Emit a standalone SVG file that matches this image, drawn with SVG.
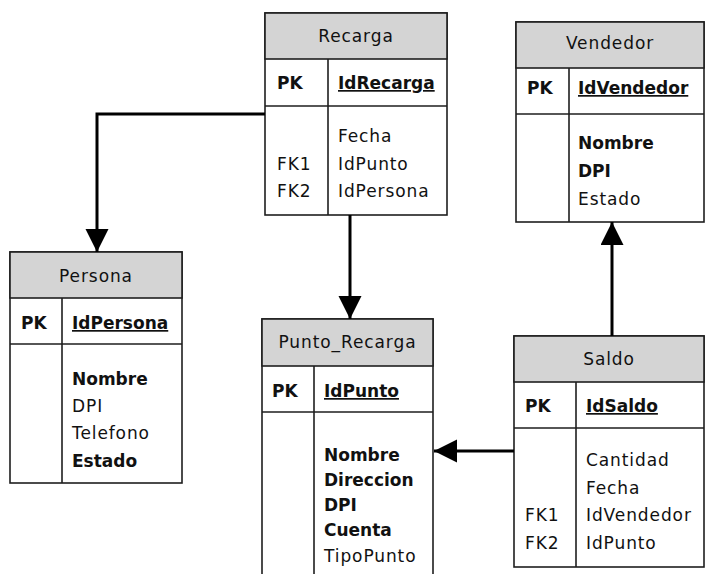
<svg xmlns="http://www.w3.org/2000/svg" width="705" height="574" viewBox="0 0 705 574">
<style>
  .box{fill:#ffffff;stroke:#1e1e1e;stroke-width:1.6}
  .hdr{fill:#d4d4d4;stroke:#1e1e1e;stroke-width:1.6}
  .ln{stroke:#1e1e1e;stroke-width:1.6;fill:none}
  text{font-family:"DejaVu Sans","Liberation Sans",sans-serif;font-size:17px;fill:#111}
  .r{letter-spacing:0.9px}
  .b{font-weight:bold}
  .t{text-anchor:middle;letter-spacing:0.9px}
  .u{font-weight:bold;text-decoration:underline}
  .conn{stroke:#000;stroke-width:3;fill:none;marker-end:url(#arr)}
</style>
<defs>
  <marker id="arr" markerUnits="userSpaceOnUse" markerWidth="24" markerHeight="24" refX="23" refY="11.5" orient="auto">
    <path d="M0,0 L23,11.5 L0,23 z" fill="#000"/>
  </marker>
</defs>
<rect width="705" height="574" fill="#ffffff"/>

<g id="Recarga">
  <rect class="box" x="265" y="13" width="182" height="202"/>
  <rect class="hdr" x="265" y="13" width="182" height="46"/>
  <line class="ln" x1="265" y1="106" x2="447" y2="106"/>
  <line class="ln" x1="328" y1="59" x2="328" y2="215"/>
  <text class="t" x="356" y="42">Recarga</text>
  <text class="b" x="277" y="89">PK</text>
  <text class="u" x="338" y="89">IdRecarga</text>
  <text class="r" x="338" y="142">Fecha</text>
  <text class="r" x="277" y="170">FK1</text>
  <text class="r" x="338" y="170">IdPunto</text>
  <text class="r" x="277" y="197">FK2</text>
  <text class="r" x="338" y="197">IdPersona</text>
</g>

<g id="Vendedor">
  <rect class="box" x="516" y="22" width="188" height="200"/>
  <rect class="hdr" x="516" y="22" width="188" height="46"/>
  <line class="ln" x1="516" y1="114" x2="704" y2="114"/>
  <line class="ln" x1="569" y1="68" x2="569" y2="222"/>
  <text class="t" x="610" y="49">Vendedor</text>
  <text class="b" x="527" y="94">PK</text>
  <text class="u" x="578" y="94">IdVendedor</text>
  <text class="b" x="578" y="149">Nombre</text>
  <text class="b" x="578" y="177">DPI</text>
  <text class="r" x="578" y="205">Estado</text>
</g>

<g id="Persona">
  <rect class="box" x="10" y="252" width="172" height="231"/>
  <rect class="hdr" x="10" y="252" width="172" height="46"/>
  <line class="ln" x1="10" y1="344" x2="182" y2="344"/>
  <line class="ln" x1="62" y1="298" x2="62" y2="483"/>
  <text class="t" x="96" y="282">Persona</text>
  <text class="b" x="21" y="329">PK</text>
  <text class="u" x="72" y="329">IdPersona</text>
  <text class="b" x="72" y="385">Nombre</text>
  <text class="r" x="72" y="412">DPI</text>
  <text class="r" x="72" y="439">Telefono</text>
  <text class="b" x="72" y="467">Estado</text>
</g>

<g id="Punto_Recarga">
  <rect class="box" x="262" y="319" width="171" height="280"/>
  <rect class="hdr" x="262" y="319" width="171" height="47"/>
  <line class="ln" x1="262" y1="412" x2="433" y2="412"/>
  <line class="ln" x1="314" y1="366" x2="314" y2="599"/>
  <text class="t" x="347.5" y="348">Punto_Recarga</text>
  <text class="b" x="272" y="397">PK</text>
  <text class="u" x="324" y="397">IdPunto</text>
  <text class="b" x="324" y="461">Nombre</text>
  <text class="b" x="324" y="486">Direccion</text>
  <text class="b" x="324" y="511">DPI</text>
  <text class="b" x="324" y="536">Cuenta</text>
  <text class="r" x="324" y="562">TipoPunto</text>
</g>

<g id="Saldo">
  <rect class="box" x="514" y="336" width="190" height="231"/>
  <rect class="hdr" x="514" y="336" width="190" height="46"/>
  <line class="ln" x1="514" y1="428" x2="704" y2="428"/>
  <line class="ln" x1="576" y1="382" x2="576" y2="567"/>
  <text class="t" x="609" y="365">Saldo</text>
  <text class="b" x="525" y="412">PK</text>
  <text class="u" x="586" y="412">IdSaldo</text>
  <text class="r" x="586" y="466">Cantidad</text>
  <text class="r" x="586" y="494">Fecha</text>
  <text class="r" x="525" y="521">FK1</text>
  <text class="r" x="586" y="521">IdVendedor</text>
  <text class="r" x="525" y="549">FK2</text>
  <text class="r" x="586" y="549">IdPunto</text>
</g>

<g id="connectors">
  <path class="conn" d="M265,114 H97 V252"/>
  <path class="conn" d="M350,215 V319"/>
  <path class="conn" d="M612,336 V222"/>
  <path class="conn" d="M514,451 H434"/>
</g>
</svg>
